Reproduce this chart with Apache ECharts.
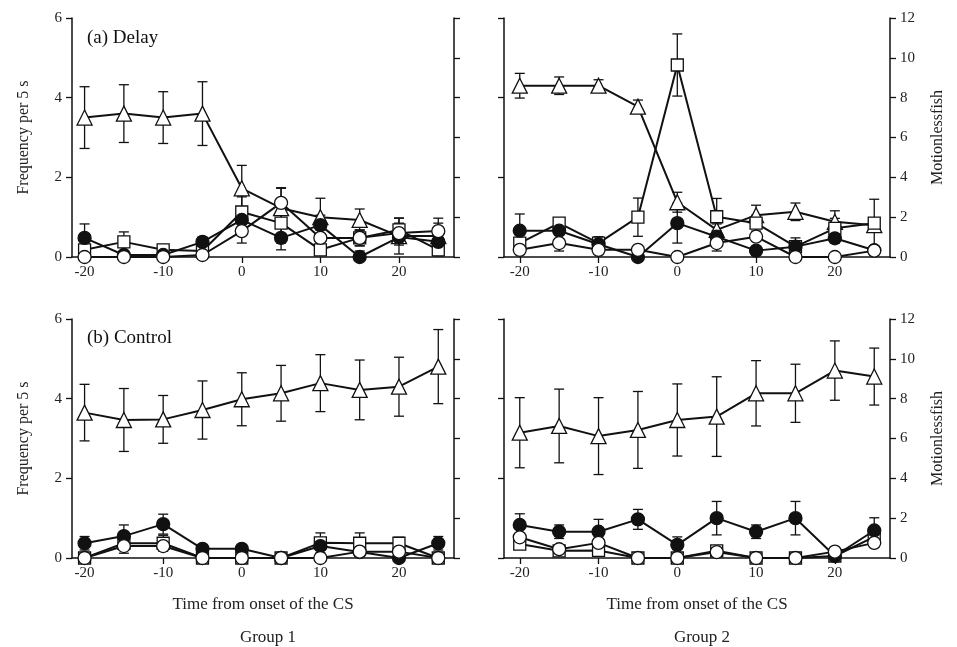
<!DOCTYPE html>
<html>
<head>
<meta charset="utf-8">
<script src="https://cdn.jsdelivr.net/npm/echarts@6/dist/echarts.min.js"></script>
<style>
  html, body { margin: 0; padding: 0; background: #fff; }
  #chart { width: 957px; height: 647px; }
</style>
</head>
<body>
<div id="chart"></div>
<script>
// time bins (s from onset of the CS)
var times = [-20, -15, -10, -5, 0, 5, 10, 15, 20, 25];
var xTicks = [-20, -10, 0, 10, 20];

// (a) Delay, Group 1  -- triangles on right axis (0-12), others on left axis (0-6)
var dG1Tri       = [7.0, 7.2, 7.0, 7.2, 3.45, 2.45, 2.0, 1.86, 1.05, 1.05];
var dG1TriErr    = [1.55, 1.45, 1.3, 1.6, 1.15, 1.0, 0.95, 0.55, 0.9, 0.9];
var dG1Sq        = [0.18, 0.38, 0.18, 0.15, 1.13, 0.85, 0.18, 0.48, 0.68, 0.18];
var dG1SqErr     = [0.1, 0.25, 0.1, 0.1, 0.38, 0.5, 0.1, 0.2, 0.3, 0.15];
var dG1Filled    = [0.48, 0.05, 0.05, 0.38, 0.93, 0.48, 0.8, 0.0, 0.5, 0.38];
var dG1FilledErr = [0.35, 0.1, 0.05, 0.12, 0.2, 0.3, 0.25, 0.15, 0.2, 0.1];
var dG1Open      = [0, 0, 0, 0.05, 0.65, 1.36, 0.48, 0.48, 0.6, 0.65];
var dG1OpenErr   = [0, 0, 0, 0.05, 0.3, 0.38, 0.2, 0.2, 0.25, 0.2];

// (a) Delay, Group 2
var dG2Tri       = [8.6, 8.6, 8.6, 7.55, 2.75, 1.36, 2.1, 2.27, 1.77, 1.6];
var dG2TriErr    = [0.62, 0.44, 0.3, 0.33, 0.5, 0.3, 0.5, 0.44, 0.55, 0.3];
var dG2Sq        = [0.35, 0.85, 0.35, 1.0, 4.82, 1.01, 0.85, 0.26, 0.72, 0.85];
var dG2SqErr     = [0.1, 0.1, 0.16, 0.48, 0.78, 0.46, 0.2, 0.22, 0.25, 0.6];
var dG2Filled    = [0.66, 0.66, 0.32, 0.0, 0.85, 0.51, 0.16, 0.26, 0.47, 0.17];
var dG2FilledErr = [0.42, 0.1, 0.1, 0.05, 0.5, 0.15, 0.05, 0.1, 0.12, 0.05];
var dG2Open      = [0.18, 0.35, 0.18, 0.18, 0.0, 0.35, 0.51, 0.0, 0.0, 0.16];
var dG2OpenErr   = [0.05, 0.2, 0.05, 0.05, 0, 0.2, 0.1, 0, 0, 0.05];

// (b) Control, Group 1
var cG1Tri       = [7.3, 6.93, 6.96, 7.43, 7.97, 8.27, 8.78, 8.44, 8.6, 9.61];
var cG1TriErr    = [1.42, 1.58, 1.2, 1.46, 1.33, 1.4, 1.43, 1.5, 1.48, 1.86];
var cG1Sq        = [0, 0.37, 0.37, 0, 0, 0, 0.38, 0.37, 0.37, 0];
var cG1SqErr     = [0, 0.25, 0.2, 0, 0, 0, 0.25, 0.26, 0.15, 0];
var cG1Filled    = [0.37, 0.55, 0.85, 0.23, 0.23, 0, 0.3, 0.15, 0, 0.37];
var cG1FilledErr = [0.17, 0.28, 0.25, 0.05, 0.05, 0, 0.1, 0.1, 0.05, 0.17];
var cG1Open      = [0, 0.3, 0.3, 0, 0, 0, 0, 0.16, 0.16, 0];
var cG1OpenErr   = [0, 0.1, 0.1, 0, 0, 0, 0, 0.1, 0.1, 0];

// (b) Control, Group 2
var cG2Tri       = [6.29, 6.63, 6.12, 6.43, 6.93, 7.1, 8.27, 8.27, 9.41, 9.11];
var cG2TriErr    = [1.76, 1.85, 1.93, 1.93, 1.81, 2.0, 1.64, 1.46, 1.49, 1.43];
var cG2Sq        = [0.35, 0.18, 0.19, 0, 0, 0.18, 0, 0, 0.05, 0.53];
var cG2SqErr     = [0.1, 0.05, 0.05, 0, 0, 0.05, 0, 0, 0.05, 0.1];
var cG2Filled    = [0.83, 0.66, 0.66, 0.97, 0.33, 1.0, 0.66, 1.0, 0.05, 0.69];
var cG2FilledErr = [0.28, 0.17, 0.31, 0.25, 0.2, 0.42, 0.17, 0.42, 0.05, 0.32];
var cG2Open      = [0.52, 0.22, 0.38, 0, 0, 0.15, 0, 0, 0.16, 0.38];
var cG2OpenErr   = [0.3, 0.05, 0.1, 0, 0, 0, 0, 0, 0.1, 0.1];

var FONT = '"Liberation Serif", "DejaVu Serif", serif';
var INK = '#111';

var panels = [
  {left: 72,  top: 18,  width: 382, xmin: -21.6, leftLabels: true,  rightLabels: false, xName: '',
   tri: dG1Tri, triErr: dG1TriErr, sq: dG1Sq, sqErr: dG1SqErr, filled: dG1Filled, filledErr: dG1FilledErr, open: dG1Open, openErr: dG1OpenErr},
  {left: 504, top: 18,  width: 386, xmin: -22,   leftLabels: false, rightLabels: true, xName: '',
   tri: dG2Tri, triErr: dG2TriErr, sq: dG2Sq, sqErr: dG2SqErr, filled: dG2Filled, filledErr: dG2FilledErr, open: dG2Open, openErr: dG2OpenErr},
  {left: 72,  top: 319, width: 382, xmin: -21.6, leftLabels: true,  rightLabels: false, xName: 'Time from onset of the CS',
   tri: cG1Tri, triErr: cG1TriErr, sq: cG1Sq, sqErr: cG1SqErr, filled: cG1Filled, filledErr: cG1FilledErr, open: cG1Open, openErr: cG1OpenErr},
  {left: 504, top: 319, width: 386, xmin: -22,   leftLabels: false, rightLabels: true, xName: 'Time from onset of the CS',
   tri: cG2Tri, triErr: cG2TriErr, sq: cG2Sq, sqErr: cG2SqErr, filled: cG2Filled, filledErr: cG2FilledErr, open: cG2Open, openErr: cG2OpenErr}
];

function pairs(vals) {
  return times.map(function (t, i) { return [t, vals[i]]; });
}
function triples(vals, errs) {
  return times.map(function (t, i) { return [t, vals[i], errs[i]]; });
}

function errorBar(params, api) {
  var x = api.value(0), y = api.value(1), e = api.value(2);
  if (!e) return null;
  var hi = api.coord([x, y + e]);
  var lo = api.coord([x, Math.max(y - e, 0)]);
  var w = 5;
  var st = {stroke: INK, lineWidth: 1.3};
  return {
    type: 'group',
    children: [
      {type: 'line', shape: {x1: hi[0], y1: hi[1], x2: lo[0], y2: lo[1]}, style: st},
      {type: 'line', shape: {x1: hi[0] - w, y1: hi[1], x2: hi[0] + w, y2: hi[1]}, style: st},
      {type: 'line', shape: {x1: lo[0] - w, y1: lo[1], x2: lo[0] + w, y2: lo[1]}, style: st}
    ]
  };
}

var grids = [], xAxes = [], yAxes = [], series = [];
var axisLine = {show: true, onZero: false, lineStyle: {color: INK, width: 1.5}};
var tick = {show: true, length: 6, lineStyle: {color: INK, width: 1.3}};
var labelStyle = {color: '#222', fontFamily: FONT, fontSize: 15};

panels.forEach(function (p, gi) {
  grids.push({left: p.left, top: p.top, width: p.width, height: 239});
  xAxes.push({
    type: 'value', gridIndex: gi, min: p.xmin, max: 27,
    splitLine: {show: false}, axisLine: axisLine,
    axisTick: {show: true, length: 6, lineStyle: {color: INK, width: 1.3}, customValues: xTicks},
    axisLabel: Object.assign({margin: 8, customValues: xTicks}, labelStyle),
    name: p.xName, nameLocation: 'middle', nameGap: 38,
    nameTextStyle: {color: '#222', fontFamily: FONT, fontSize: 17}
  });
  yAxes.push({
    type: 'value', gridIndex: gi, position: 'left', min: 0, max: 6, interval: 2,
    splitLine: {show: false}, axisLine: axisLine, axisTick: tick,
    axisLabel: Object.assign({show: p.leftLabels, margin: 10}, labelStyle),
    name: p.leftLabels ? 'Frequency per 5 s' : '', nameLocation: 'middle', nameGap: 40,
    nameTextStyle: {color: '#222', fontFamily: FONT, fontSize: 16}
  });
  yAxes.push({
    type: 'value', gridIndex: gi, position: 'right', min: 0, max: 12, interval: 2,
    splitLine: {show: false}, axisLine: axisLine, axisTick: tick,
    axisLabel: Object.assign({show: p.rightLabels, margin: 10}, labelStyle),
    name: p.rightLabels ? 'Motionlessfish' : '', nameLocation: 'middle', nameGap: 40,
    nameTextStyle: {color: '#222', fontFamily: FONT, fontSize: 16}
  });
  var yl = gi * 2, yr = gi * 2 + 1;
  var groups = [
    {vals: p.tri, errs: p.triErr, y: yr, symbol: 'triangle', size: 15, fill: '#fff'},
    {vals: p.sq, errs: p.sqErr, y: yl, symbol: 'rect', size: 12, fill: '#fff'},
    {vals: p.filled, errs: p.filledErr, y: yl, symbol: 'circle', size: 13, fill: INK},
    {vals: p.open, errs: p.openErr, y: yl, symbol: 'circle', size: 13, fill: '#fff'}
  ];
  groups.forEach(function (g) {
    series.push({
      type: 'custom', xAxisIndex: gi, yAxisIndex: g.y, renderItem: errorBar,
      data: triples(g.vals, g.errs), z: 2, silent: true
    });
  });
  groups.forEach(function (g) {
    series.push({
      type: 'line', xAxisIndex: gi, yAxisIndex: g.y, data: pairs(g.vals),
      symbol: g.symbol, symbolSize: g.size, showAllSymbol: true,
      lineStyle: {color: INK, width: 2},
      itemStyle: {color: g.fill, borderColor: INK, borderWidth: 1.3},
      z: 3, animation: false, silent: true
    });
  });
});

var chart = echarts.init(document.getElementById('chart'), null, {renderer: 'canvas'});
chart.setOption({
  backgroundColor: '#fff',
  animation: false,
  title: [
    {text: '(a) Delay', left: 82, top: 24, textStyle: {fontFamily: FONT, fontSize: 19, fontWeight: 'normal', color: '#111'}},
    {text: '(b) Control', left: 82, top: 324, textStyle: {fontFamily: FONT, fontSize: 19, fontWeight: 'normal', color: '#111'}},
    {text: 'Group 1', left: 263, top: 624, textAlign: 'center', textStyle: {fontFamily: FONT, fontSize: 17, fontWeight: 'normal', color: '#222'}},
    {text: 'Group 2', left: 697, top: 624, textAlign: 'center', textStyle: {fontFamily: FONT, fontSize: 17, fontWeight: 'normal', color: '#222'}}
  ],
  grid: grids,
  xAxis: xAxes,
  yAxis: yAxes,
  series: series
});
</script>
</body>
</html>
